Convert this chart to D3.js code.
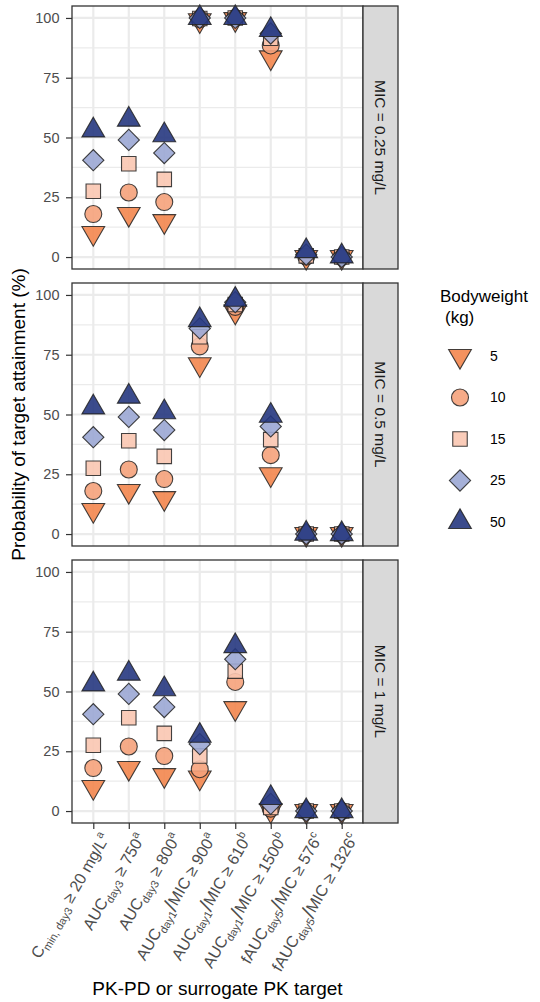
<!DOCTYPE html>
<html>
<head>
<meta charset="utf-8">
<script src="https://cdn.jsdelivr.net/npm/d3@7"></script>
<style>
  body { margin: 0; background: #fff; }
  text { font-family: "Liberation Sans", Arial, sans-serif; }
</style>
</head>
<body>
<svg id="chart" width="540" height="1002"></svg>
<script>
// ---- data ----
const targets = ["cmin20", "auc750", "auc800", "auc900", "auc610", "auc1500", "fauc576", "fauc1326"];
const targetLabels = [
  [["C"], ["min, day3", "sub"], [" \u2265 20 mg/L"], ["a", "sup"]],
  [["AUC"], ["day3", "sub"], [" \u2265 750"], ["a", "sup"]],
  [["AUC"], ["day3", "sub"], [" \u2265 800"], ["a", "sup"]],
  [["AUC"], ["day1", "sub"], ["/", "slash"], ["MIC \u2265 900"], ["a", "sup"]],
  [["AUC"], ["day1", "sub"], ["/", "slash"], ["MIC \u2265 610"], ["b", "sup"]],
  [["AUC"], ["day1", "sub"], ["/", "slash"], ["MIC \u2265 1500"], ["b", "sup"]],
  [["fAUC"], ["day5", "sub"], ["/", "slash"], ["MIC \u2265 576"], ["c", "sup"]],
  [["fAUC"], ["day5", "sub"], ["/", "slash"], ["MIC \u2265 1326"], ["c", "sup"]]
];
const weights = ["5", "10", "15", "25", "50"];
const micPanels = ["MIC = 0.25 mg/L", "MIC = 0.5 mg/L", "MIC = 1 mg/L"];

// probability of target attainment (%), one row per bodyweight
const ptaMic025 = [
  [10, 18, 15, 99, 99.5, 83.5, 0, 0],
  [18, 27, 23, 99.5, 100, 88.5, 0.2, 0],
  [27.5, 39, 32.5, 99.8, 100, 91.5, 0.5, 0],
  [40.5, 49, 43.5, 100, 100, 93.5, 1, 0],
  [53, 57.5, 51, 100, 100, 95, 2.5, 0.3]
];
const ptaMic05 = [
  [10, 18, 15, 71, 93, 25, 0, 0],
  [18, 27, 23, 78.5, 95, 33, 0, 0],
  [27.5, 39, 32.5, 82.5, 96, 39.5, 0, 0],
  [40.5, 49, 43.5, 86, 97, 45, 0, 0],
  [53, 57.5, 51, 89.5, 98, 49.5, 0.2, 0]
];
const ptaMic1 = [
  [10, 18, 15, 14, 43, 0.3, 0, 0],
  [18, 27, 23, 17.5, 54, 1, 0, 0],
  [27.5, 39, 32.5, 23, 58.5, 1.5, 0, 0],
  [40.5, 49, 43.5, 28, 63.5, 3, 0, 0],
  [53, 57.5, 51, 31.5, 69, 5.5, 0, 0]
];
const yTicks = [0, 25, 50, 75, 100];
const yMinor = [12.5, 37.5, 62.5, 87.5];

const weightColors = ["#F3864E", "#F5A27B", "#FAC7B1", "#9BA7D4", "#26377F"];

// ---- layout ----
const svg = d3.select("#chart");
const left = 72, right = 363, panelH = 263;
const panelTops = [6, 283, 560];
const stripW = 35;

const x = d3.scalePoint().domain(targets).range([left, right]).padding(0.6);

const symbols = [
  { type: d3.symbolTriangle, size: 224, rot: 180 },
  { type: d3.symbolCircle, size: 227, rot: 0 },
  { type: d3.symbolSquare, size: 210, rot: 0 },
  { type: d3.symbolSquare, size: 225, rot: 45 },
  { type: d3.symbolTriangle, size: 224, rot: 0 }
];
const sym = i => d3.symbol().type(symbols[i].type).size(symbols[i].size)();

const allData = [ptaMic025, ptaMic05, ptaMic1];

allData.forEach((rows, p) => {
  const top = panelTops[p];
  const y = d3.scaleLinear().domain([-5, 105]).range([top + panelH, top]);
  const g = svg.append("g");

  g.append("rect").attr("x", left).attr("y", top)
    .attr("width", right - left).attr("height", panelH).attr("fill", "#fff");

  g.selectAll(".minor").data(yMinor).join("line")
    .attr("x1", left).attr("x2", right)
    .attr("y1", d => y(d)).attr("y2", d => y(d))
    .attr("stroke", "#EBEBEB").attr("stroke-width", 1.1);
  g.selectAll(".majy").data(yTicks).join("line")
    .attr("x1", left).attr("x2", right)
    .attr("y1", d => y(d)).attr("y2", d => y(d))
    .attr("stroke", "#EBEBEB").attr("stroke-width", 2.2);
  g.selectAll(".majx").data(targets).join("line")
    .attr("x1", d => x(d)).attr("x2", d => x(d))
    .attr("y1", top).attr("y2", top + panelH)
    .attr("stroke", "#EBEBEB").attr("stroke-width", 2.2);

  // points, drawn lightest weight first so 50 kg sits on top
  rows.forEach((vals, w) => {
    g.selectAll(null).data(vals).join("path")
      .attr("d", sym(w))
      .attr("transform", (d, i) => `translate(${x(targets[i])},${y(d)}) rotate(${symbols[w].rot})`)
      .attr("fill", weightColors[w])
      .attr("fill-opacity", 0.9)
      .attr("stroke", "#222")
      .attr("stroke-opacity", 0.85)
      .attr("stroke-width", 1.1);
  });

  g.append("rect").attr("x", left).attr("y", top)
    .attr("width", right - left).attr("height", panelH)
    .attr("fill", "none").attr("stroke", "#333").attr("stroke-width", 1.3);

  // y axis
  const ya = g.append("g").attr("transform", `translate(${left},0)`)
    .call(d3.axisLeft(y).tickValues(yTicks).tickSize(6).tickPadding(6.5));
  ya.select(".domain").remove();
  ya.selectAll(".tick line").attr("stroke", "#333").attr("stroke-width", 1.2);
  ya.selectAll(".tick text").attr("fill", "#4D4D4D").style("font-size", "14.5px");

  // strip
  g.append("rect").attr("x", right).attr("y", top)
    .attr("width", stripW).attr("height", panelH)
    .attr("fill", "#D9D9D9").attr("stroke", "#333").attr("stroke-width", 1.3);
  g.append("text")
    .attr("transform", `translate(${right + stripW / 2},${top + panelH / 2}) rotate(90)`)
    .attr("text-anchor", "middle").attr("dy", "0.35em")
    .attr("fill", "#1A1A1A").style("font-size", "15.5px")
    .text(micPanels[p]);
});

// x axis on bottom panel
const bottom = panelTops[2] + panelH;
const xa = svg.append("g").attr("transform", `translate(0,${bottom})`)
  .call(d3.axisBottom(x).tickSize(6).tickFormat(""));
xa.select(".domain").remove();
xa.selectAll(".tick line").attr("stroke", "#333").attr("stroke-width", 1.2);

targets.forEach((t, i) => {
  const txt = svg.append("text")
    .attr("transform", `translate(${x(t) + 17},${bottom + 14.5}) rotate(-60)`)
    .attr("text-anchor", "end")
    .attr("fill", "#4D4D4D")
    .style("font-size", "16px");
  let shift = 0;
  targetLabels[i].forEach(([s, kind]) => {
    const target = kind === "sub" ? 4 : kind === "sup" ? -7 : kind === "slash" ? 1.5 : 0;
    const size = kind === "sub" || kind === "sup" ? "11px" : kind === "slash" ? "21px" : "16px";
    txt.append("tspan")
      .attr("dy", target - shift)
      .style("font-size", size)
      .text(s);
    shift = target;
  });
});

// axis titles
svg.append("text")
  .attr("x", (left + right) / 2).attr("y", 995)
  .attr("text-anchor", "middle").attr("fill", "#000")
  .style("font-size", "19px")
  .text("PK-PD or surrogate PK target");
svg.append("text")
  .attr("transform", `translate(25,${(panelTops[0] + bottom) / 2}) rotate(-90)`)
  .attr("text-anchor", "middle").attr("fill", "#000")
  .style("font-size", "19px")
  .text("Probability of target attainment (%)");

// legend
const lg = svg.append("g");
lg.append("text").attr("x", 440).attr("y", 302).style("font-size", "17px").text("Bodyweight");
lg.append("text").attr("x", 445).attr("y", 323).style("font-size", "17px").text("(kg)");
const keyY = d3.scalePoint().domain(weights).range([356, 522]);
weights.forEach((w, i) => {
  lg.append("path")
    .attr("d", sym(i))
    .attr("transform", `translate(460,${keyY(w)}) rotate(${symbols[i].rot})`)
    .attr("fill", weightColors[i]).attr("fill-opacity", 0.9)
    .attr("stroke", "#222").attr("stroke-opacity", 0.85).attr("stroke-width", 1.1);
  lg.append("text").attr("x", 490).attr("y", keyY(w)).attr("dy", "0.35em")
    .style("font-size", "14px").text(w);
});
</script>
</body>
</html>
